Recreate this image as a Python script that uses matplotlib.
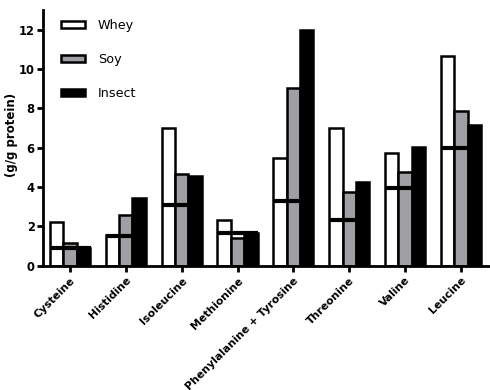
import matplotlib
matplotlib.use("Agg")
import matplotlib.pyplot as plt
import numpy as np

categories = ["Cysteine", "Histidine", "Isoleucine", "Methionine",
              "Phenylalanine + Tyrosine", "Threonine", "Valine", "Leucine"]
whey = [2.2, 1.55, 7.0, 2.3, 5.45, 7.0, 5.75, 10.65]
soy = [1.15, 2.55, 4.65, 1.4, 9.05, 3.75, 4.75, 7.85]
insect = [0.9, 3.45, 4.55, 1.65, 12.0, 4.25, 6.05, 7.15]
requirement = [0.9, 1.5, 3.1, 1.65, 3.3, 2.3, 3.95, 6.0]
yticks = [0, 2, 4, 6, 8, 10, 12]

plt.rcParams['font.family'] = ['DejaVu Sans']

fig = plt.figure(figsize=(4.9, 3.9), dpi=100)
ax = fig.add_axes([0.088, 0.319, 0.912, 0.655])

x = np.arange(len(categories))
w = 0.24
lw = 1.8
ax.bar(x - w, whey, w, color='white', edgecolor='black', linewidth=lw, label='Whey', zorder=2)
ax.bar(x, soy, w, color='#a0a0a4', edgecolor='black', linewidth=lw, label='Soy', zorder=2)
ax.bar(x + w, insect, w, color='black', edgecolor='black', linewidth=lw, label='Insect', zorder=2)
ax.hlines(requirement, x - 1.5 * w, x + 1.55 * w, colors='black', linewidth=3, zorder=3)

ax.set_xlim(-0.48, 7.52)
ax.set_ylim(0, 13)
ax.set_yticks(yticks)
ax.set_yticklabels([str(v) for v in yticks], fontweight='bold', fontsize=8.3)
ax.set_xticks(x)
ax.set_xticklabels(categories, rotation=45, ha='right', rotation_mode='anchor',
                   fontweight='bold', fontsize=7.8)
ax.set_ylabel('(g/g protein)', fontweight='bold', fontsize=8.5)
ax.yaxis.set_label_coords(-0.057, 0.51)

for s in ['top', 'right']:
    ax.spines[s].set_visible(False)
for s in ['left', 'bottom']:
    ax.spines[s].set_linewidth(2)
ax.tick_params(axis='both', width=2, length=4, direction='out', pad=2)
ax.tick_params(axis='x', pad=3)

leg = ax.legend(loc='upper left', bbox_to_anchor=(0.04, 0.965), frameon=False,
                fontsize=9.2, borderpad=0, borderaxespad=0, handlelength=1.9,
                handleheight=0.5, handletextpad=1.0, labelspacing=1.64)

fig.savefig('out.png', dpi=100)
